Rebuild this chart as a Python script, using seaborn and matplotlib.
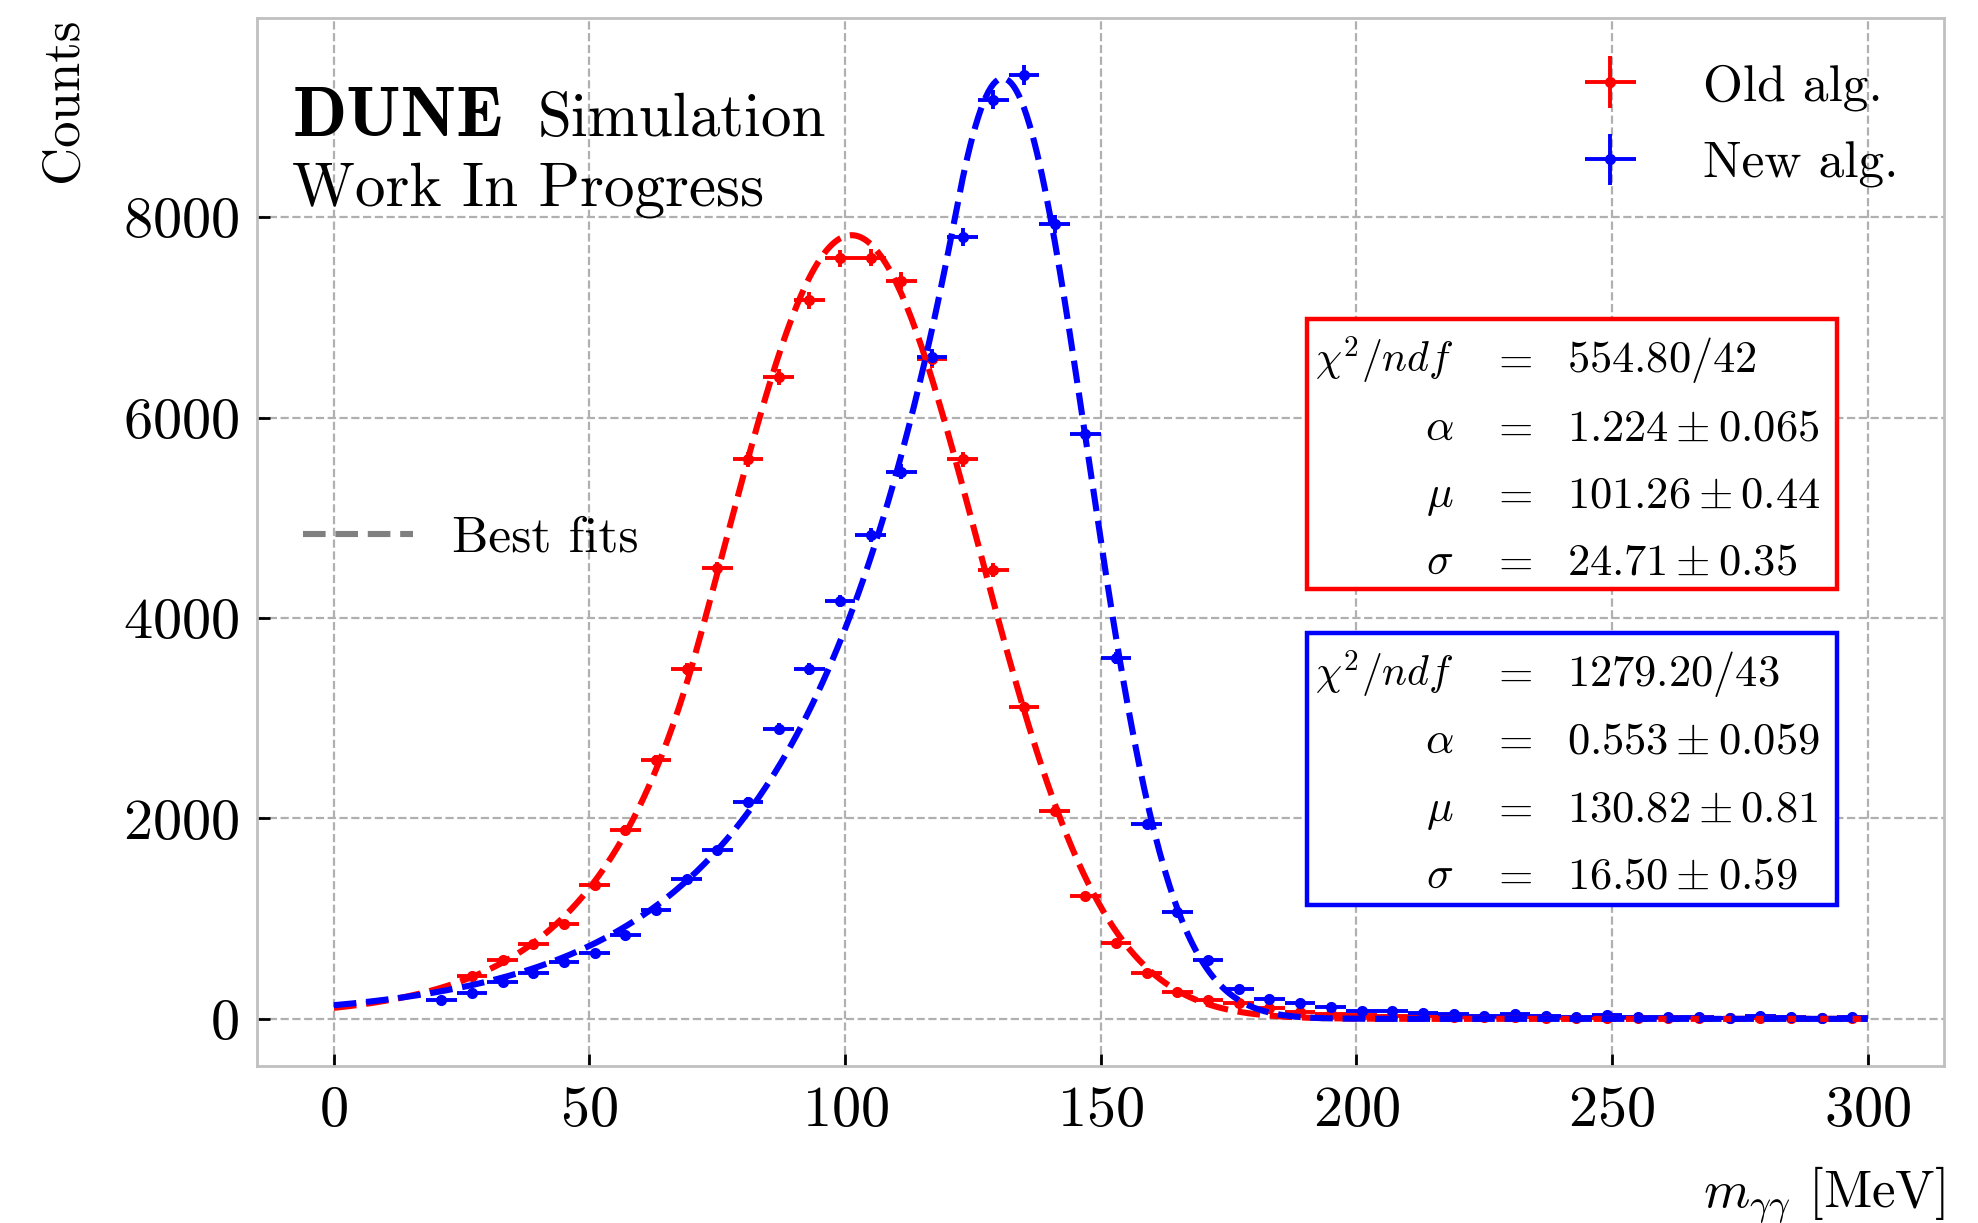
import numpy as np
import pandas as pd
import matplotlib
matplotlib.use("Agg")
import matplotlib.pyplot as plt
from matplotlib.lines import Line2D
from matplotlib.patches import Rectangle
import seaborn as sns

# bin centres (6 MeV bins)
old_x = np.arange(27, 300, 6)
new_x = np.arange(21, 300, 6)

old_counts = [429, 589, 748, 948, 1337, 1889, 2582, 3489, 4496, 5586,
              6407, 7172, 7588, 7595, 7365, 6580, 5583, 4479, 3111, 2078,
              1222, 756, 453, 273, 190, 155, 106, 73, 50, 38,
              30, 25, 20, 18, 15, 12, 10, 10, 8, 8,
              6, 6, 5, 5, 4, 4]
new_counts = [190, 263, 372, 462, 572, 655, 838, 1087, 1393, 1686,
              2166, 2897, 3489, 4170, 4825, 5460, 6600, 7804, 9174, 9417,
              7930, 5832, 3602, 1940, 1070, 589, 296, 199, 163, 123,
              83, 83, 63, 46, 33, 46, 30, 23, 40, 17,
              23, 17, 13, 30, 17, 13, 17]

old_fit = dict(amp=7820, alpha=1.224, mu=101.26, sigma=24.71)
new_fit = dict(amp=9385, alpha=0.553, mu=130.82, sigma=16.50)

old_box = [(r"$\chi^2/ndf$", r"$554.80/42$"),
           (r"$\alpha$", r"$1.224 \pm 0.065$"),
           (r"$\mu$", r"$101.26 \pm 0.44$"),
           (r"$\sigma$", r"$24.71 \pm 0.35$")]
new_box = [(r"$\chi^2/ndf$", r"$1279.20/43$"),
           (r"$\alpha$", r"$0.553 \pm 0.059$"),
           (r"$\mu$", r"$130.82 \pm 0.81$"),
           (r"$\sigma$", r"$16.50 \pm 0.59$")]


def gauss_exp(x, amp, alpha, mu, sigma):
    # gaussian core with exponential low-side tail
    t = (x - mu) / sigma
    return amp * np.where(t > -alpha, np.exp(-0.5 * t**2),
                          np.exp(0.5 * alpha**2 + alpha * t))


sns.set_style("ticks")
plt.rcParams["font.family"] = ["cmr10"]
plt.rcParams["mathtext.fontset"] = "cm"
plt.rcParams["axes.formatter.use_mathtext"] = True
plt.rcParams["text.color"] = "black"
plt.rcParams["axes.labelcolor"] = "black"
plt.rcParams["xtick.labelcolor"] = "black"
plt.rcParams["ytick.labelcolor"] = "black"

fig = plt.figure(figsize=(9.89, 6.115), dpi=200)
ax = fig.add_axes([0.130, 0.1284, 0.853, 0.8571])

xs = np.linspace(0, 300, 601)
curves = pd.DataFrame({
    "x": np.concatenate([xs, xs]),
    "y": np.concatenate([gauss_exp(xs, **old_fit), gauss_exp(xs, **new_fit)]),
    "alg": ["old"] * len(xs) + ["new"] * len(xs),
})
sns.lineplot(data=curves, x="x", y="y", hue="alg",
             palette={"old": "#ff0000", "new": "#0000ff"},
             linestyle="--", linewidth=2.2, legend=False, ax=ax, zorder=3)

h_old = ax.errorbar(old_x, old_counts, xerr=3, yerr=np.sqrt(old_counts),
                    fmt="o", color="#ff0000", markersize=3, elinewidth=1.4,
                    capsize=0, label="Old alg.", zorder=2)
h_new = ax.errorbar(new_x, new_counts, xerr=3, yerr=np.sqrt(new_counts),
                    fmt="o", color="#0000ff", markersize=3, elinewidth=1.4,
                    capsize=0, label="New alg.", zorder=2)

ax.set_xlim(-15, 315)
ax.set_ylim(-470, 9990)
ax.set_xticks([0, 50, 100, 150, 200, 250, 300])
ax.set_yticks([0, 2000, 4000, 6000, 8000])
ax.tick_params(direction="in", length=4.5, width=1, labelsize=21,
               color="black", labelcolor="black")
ax.tick_params(axis="x", pad=7)
ax.tick_params(axis="y", pad=6.5)
ax.grid(True, linestyle="--", color="#b0b0b0", linewidth=0.8)
for s in ax.spines.values():
    s.set_color("#c0c0c0")
    s.set_linewidth(1.0)

ax.set_xlabel(r"$m_{\gamma\gamma}$ [MeV]", fontsize=19, loc="right", labelpad=10)
ax.set_ylabel("Counts", fontsize=19, loc="top", labelpad=13)

ax.text(0.0209, 0.887, "DUNE", transform=ax.transAxes, family="cmb10",
        fontsize=25.5, va="baseline", ha="left")
ax.text(0.166, 0.887, "Simulation", transform=ax.transAxes,
        fontsize=22, va="baseline", ha="left")
ax.text(0.0209, 0.8207, "Work In Progress", transform=ax.transAxes,
        fontsize=22, va="baseline", ha="left")

leg1 = ax.legend(handles=[h_old, h_new], loc="upper right", frameon=False,
                 fontsize=18.5, labelspacing=0.6)
ax.add_artist(leg1)
fit_handle = Line2D([], [], color="#808080", linestyle="--", linewidth=2.2)
ax.legend(handles=[fit_handle], labels=["Best fits"], loc="center left",
          bbox_to_anchor=(0.015, 0.503), borderaxespad=0, frameon=False,
          fontsize=18.5, handlelength=2.15, handletextpad=0.75)

# parameter boxes
for rows, col, ytop, ybot, bases in [
        (old_box, "#ff0000", 0.7124, 0.4549, [0.6619, 0.5969, 0.5331, 0.4693]),
        (new_box, "#0000ff", 0.4128, 0.1540, [0.3622, 0.2984, 0.2335, 0.1697])]:
    ax.add_patch(Rectangle((0.6223, ybot), 0.9364 - 0.6223, ytop - ybot,
                           transform=ax.transAxes, fill=True, facecolor="white",
                           edgecolor=col, linewidth=1.6, zorder=5))
    for i, ((lab, val), yb) in enumerate(zip(rows, bases)):
        ax.text(0.709, yb, lab, transform=ax.transAxes,
                fontsize=15 if i == 0 else 16,
                ha="right", va="baseline", zorder=6)
        ax.text(0.7435, yb, r"$=$", transform=ax.transAxes, fontsize=16,
                ha="center", va="baseline", zorder=6)
        ax.text(0.7764, yb, val, transform=ax.transAxes, fontsize=16,
                ha="left", va="baseline", zorder=6)

fig.savefig("out.png", dpi=200)
